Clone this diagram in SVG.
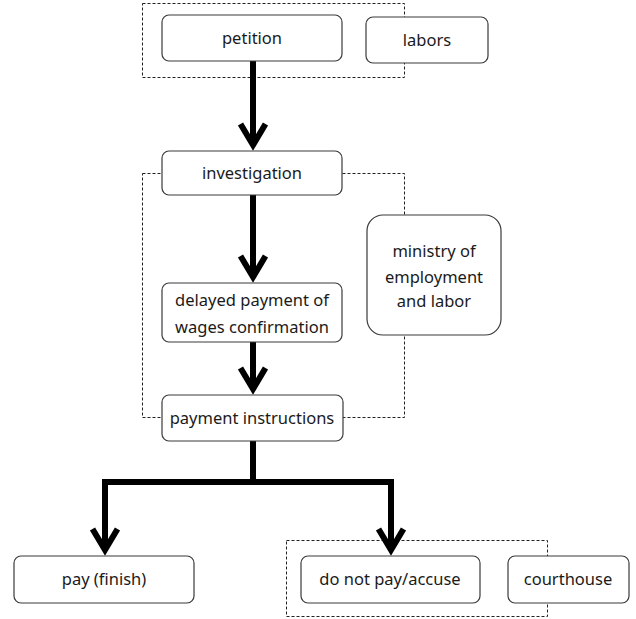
<svg xmlns="http://www.w3.org/2000/svg" width="636" height="619" viewBox="0 0 636 619">
<defs>
<style>
.node{fill:#fff;stroke:#3a3a3a;stroke-width:1.2}
.grp{fill:none;stroke:#222;stroke-width:1;stroke-dasharray:3 2}
.t{font-family:"Noto Sans","Open Sans","DejaVu Sans",sans-serif;font-size:16.5px;fill:#1a1a1a;text-anchor:middle}
.c{fill:none;stroke:#000;stroke-width:6;stroke-linejoin:miter}
</style>
<marker id="ah" markerUnits="userSpaceOnUse" markerWidth="40" markerHeight="40" refX="0" refY="0" orient="auto" overflow="visible">
<path d="M-21,-12.5 L0,0 L-21,12.5" fill="none" stroke="#000" stroke-width="6" stroke-linejoin="miter"/>
</marker>
</defs>
<rect width="636" height="619" fill="#fff"/>
<g id="groups">
<rect class="grp" x="142.5" y="3.5" width="262" height="74"/>
<rect class="grp" x="142.5" y="173.5" width="262" height="244"/>
<rect class="grp" x="286.5" y="540.5" width="261" height="76"/>
</g>
<g id="connectors">
<path class="c" d="M253,61 V145" marker-end="url(#ah)"/>
<path class="c" d="M253,195 V277" marker-end="url(#ah)"/>
<path class="c" d="M253,342 V389" marker-end="url(#ah)"/>
<path class="c" d="M253,441 V482 H105 V550" marker-end="url(#ah)"/>
<path class="c" d="M253,482 H391 V550" marker-end="url(#ah)"/>
</g>
<g id="petition"><rect class="node" x="162" y="15" width="180" height="46" rx="7"/><text class="t" x="252" y="44">petition</text></g>
<g id="labors"><rect class="node" x="366" y="17" width="122" height="46" rx="7"/><text class="t" x="427" y="46">labors</text></g>
<g id="investigation"><rect class="node" x="162" y="151" width="180" height="44" rx="7"/><text class="t" x="252" y="179">investigation</text></g>
<g id="ministry"><rect class="node" x="367" y="215" width="134" height="120" rx="16"/><text class="t" x="434" y="257">ministry of</text><text class="t" x="434" y="283">employment</text><text class="t" x="434" y="307">and labor</text></g>
<g id="delayed"><rect class="node" x="162" y="283" width="180" height="59" rx="7"/><text class="t" x="252" y="306">delayed payment of</text><text class="t" x="252" y="333">wages confirmation</text></g>
<g id="payment"><rect class="node" x="162" y="395" width="181" height="46" rx="7"/><text class="t" x="252" y="424">payment instructions</text></g>
<g id="pay"><rect class="node" x="14" y="556" width="180" height="47" rx="7"/><text class="t" x="104" y="585">pay (finish)</text></g>
<g id="donotpay"><rect class="node" x="301" y="556" width="179" height="47" rx="7"/><text class="t" x="390" y="585">do not pay/accuse</text></g>
<g id="courthouse"><rect class="node" x="508" y="556" width="121" height="47" rx="7"/><text class="t" x="568" y="585">courthouse</text></g>
</svg>
